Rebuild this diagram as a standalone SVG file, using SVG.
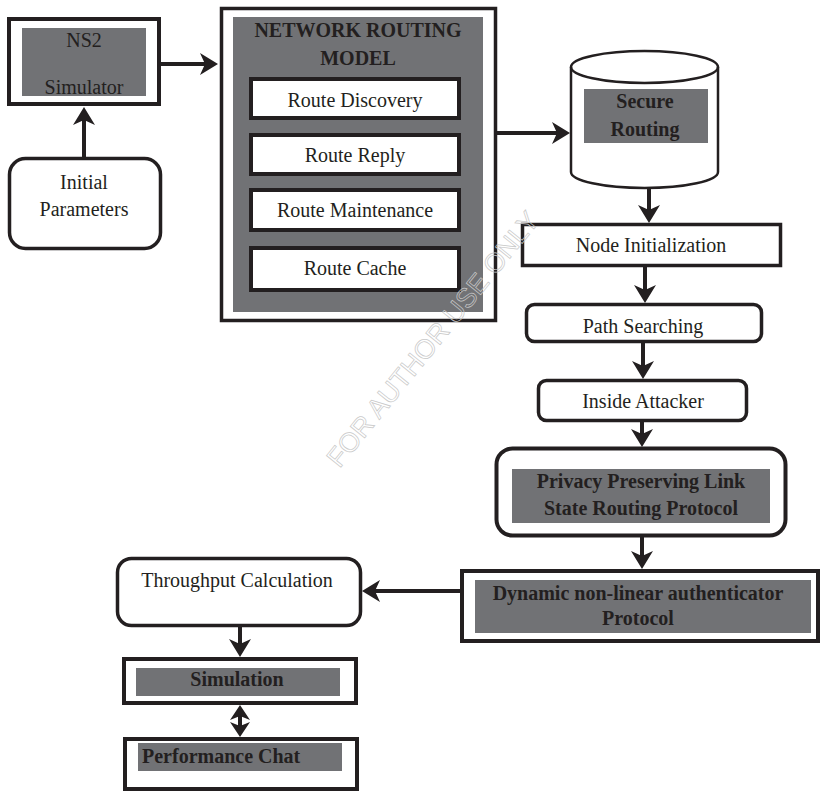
<svg xmlns="http://www.w3.org/2000/svg" width="820" height="792" viewBox="0 0 820 792">
<style>
  .t{font-family:"Times New Roman","Liberation Serif",serif;font-size:20px;font-weight:normal;fill:#231f20;text-anchor:middle}
  .b{font-weight:bold}
  .box{fill:#fff;stroke:#231f20;stroke-width:4}
  .rbox{fill:#fff;stroke:#231f20;stroke-width:3.5}
  .g{fill:#717275}
  .c{fill:none;stroke:#231f20;stroke-width:4}
  .wm{font-family:"Liberation Sans",Arial,sans-serif;font-size:27px;fill:none;stroke:#c8c8c8;stroke-width:0.7;text-anchor:middle}
</style>
<defs>
  <marker id="arr" markerUnits="userSpaceOnUse" markerWidth="18" markerHeight="22" viewBox="0 0 18 22" refX="10" refY="11" orient="auto-start-reverse">
    <path d="M0,0 L18,11 L0,22 L5,11 Z" fill="#231f20"/>
  </marker>
  <marker id="arrs" markerUnits="userSpaceOnUse" markerWidth="15" markerHeight="20" viewBox="0 0 15 20" refX="7" refY="10" orient="auto-start-reverse">
    <path d="M0,0 L15,10 L0,20 L4,10 Z" fill="#231f20"/>
  </marker>
</defs>
<rect width="820" height="792" fill="#fff"/>

<g id="ns2">
  <rect class="box" x="9" y="19" width="150" height="85"/>
  <rect class="g" x="22" y="28" width="124" height="68"/>
  <text class="t" x="84" y="47">NS2</text>
  <text class="t" x="84" y="94">Simulator</text>
</g>
<g id="initial">
  <rect class="rbox" x="9.5" y="158.5" width="151" height="90" rx="16"/>
  <text class="t" x="84" y="189">Initial</text>
  <text class="t" x="84" y="216">Parameters</text>
</g>
<g id="network">
  <rect class="box" x="221.5" y="8.5" width="274" height="312" style="stroke-width:3.5"/>
  <rect class="g" x="233" y="17" width="250" height="295"/>
  <text class="t b" x="358" y="37">NETWORK ROUTING</text>
  <text class="t b" x="358" y="65">MODEL</text>
</g>
<g id="route-discovery">
  <rect class="box" x="251" y="79" width="208" height="39"/>
  <text class="t" x="355" y="107">Route Discovery</text>
</g>
<g id="route-reply">
  <rect class="box" x="251" y="135" width="208" height="39"/>
  <text class="t" x="355" y="162">Route Reply</text>
</g>
<g id="route-maintenance">
  <rect class="box" x="251" y="190" width="208" height="40"/>
  <text class="t" x="355" y="217">Route Maintenance</text>
</g>
<g id="route-cache">
  <rect class="box" x="251" y="248" width="208" height="42"/>
  <text class="t" x="355" y="275">Route Cache</text>
</g>
<g id="secure-routing">
  <path d="M571,67 A73.5,16 0 0 1 718,67 V172 A73.5,16 0 0 1 571,172 Z" fill="#fff" stroke="#231f20" stroke-width="2.5"/>
  <path d="M571,67 A73.5,16 0 0 0 718,67" fill="none" stroke="#231f20" stroke-width="2.5"/>
  <rect class="g" x="584" y="89" width="124" height="54"/>
  <text class="t b" x="645" y="108">Secure</text>
  <text class="t b" x="645" y="136">Routing</text>
</g>
<g id="node-init">
  <rect class="box" x="522.5" y="224.5" width="258" height="41" style="stroke-width:3.5"/>
  <text class="t" x="651" y="252">Node Initialization</text>
</g>
<g id="path-searching">
  <rect class="rbox" x="526.5" y="304.5" width="235" height="37" rx="8"/>
  <text class="t" x="643" y="333">Path Searching</text>
</g>
<g id="inside-attacker">
  <rect class="rbox" x="538.5" y="380.5" width="208" height="40" rx="8"/>
  <text class="t" x="643" y="408">Inside Attacker</text>
</g>
<g id="pplsrp">
  <rect class="rbox" x="496.5" y="448.5" width="289" height="87" rx="16" style="stroke-width:4"/>
  <rect class="g" x="512" y="469" width="258" height="54"/>
  <text class="t b" x="641" y="488">Privacy Preserving Link</text>
  <text class="t b" x="641" y="515">State Routing Protocol</text>
</g>
<g id="dynamic">
  <rect class="box" x="462" y="571" width="356" height="70"/>
  <rect class="g" x="475" y="580" width="336" height="53"/>
  <text class="t b" x="638" y="600">Dynamic non-linear authenticator</text>
  <text class="t b" x="638" y="625">Protocol</text>
</g>
<g id="throughput">
  <rect class="rbox" x="117.5" y="558.5" width="243" height="67" rx="14"/>
  <text class="t" x="237" y="587">Throughput Calculation</text>
</g>
<g id="simulation">
  <rect class="box" x="124" y="659" width="232" height="44"/>
  <rect class="g" x="136" y="668" width="204" height="28"/>
  <text class="t b" x="237" y="686">Simulation</text>
</g>
<g id="performance">
  <rect class="box" x="125" y="739" width="232" height="50"/>
  <rect class="g" x="138" y="743" width="204" height="28"/>
  <text class="t b" x="142" y="763" style="text-anchor:start">Performance Chat</text>
</g>

<g id="connectors">
  <path class="c" d="M161,64 H210" marker-end="url(#arr)"/>
  <path class="c" d="M84,157 V115" marker-end="url(#arr)"/>
  <path class="c" d="M497,133 H562" marker-end="url(#arr)"/>
  <path class="c" d="M649,188 V215" marker-end="url(#arr)"/>
  <path class="c" d="M645,267 V295" marker-end="url(#arr)"/>
  <path class="c" d="M643,343 V371" marker-end="url(#arr)"/>
  <path class="c" d="M642,422 V439" marker-end="url(#arr)"/>
  <path class="c" d="M642,537 V561" marker-end="url(#arr)"/>
  <path class="c" d="M460,591 H370" marker-end="url(#arr)"/>
  <path class="c" d="M240,627 V649" marker-end="url(#arr)"/>
  <path class="c" d="M240,713 V729" marker-start="url(#arrs)" marker-end="url(#arrs)"/>
</g>

<text class="wm" transform="translate(440,345) rotate(-51)">FOR AUTHOR USE ONLY</text>
</svg>
